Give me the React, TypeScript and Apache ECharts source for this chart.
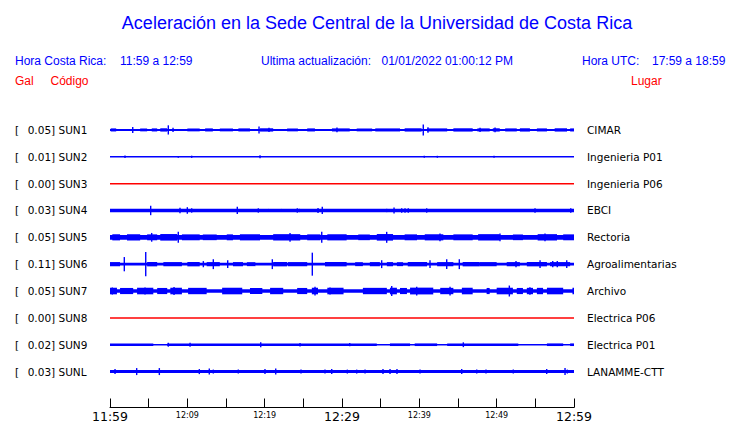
import React, { useEffect, useRef } from 'react';
import * as echarts from 'echarts';

// ---------------- data ----------------
const stations = ['SUN1', 'SUN2', 'SUN3', 'SUN4', 'SUN5', 'SUN6', 'SUN7', 'SUN8', 'SUN9', 'SUNL'];
const places = ['CIMAR', 'Ingenieria P01', 'Ingenieria P06', 'EBCI', 'Rectoria', 'Agroalimentarias', 'Archivo', 'Electrica P06', 'Electrica P01', 'LANAMME-CTT'];
const peakGal = [0.05, 0.01, 0.0, 0.03, 0.05, 0.11, 0.05, 0.0, 0.02, 0.03];
const tickLabels = ['11:59', '12:09', '12:19', '12:29', '12:39', '12:49', '12:59'];
// background noise half-amplitude (gal)
const noiseGal = [0.009, 0.0055, 0, 0.016, 0.021, 0.012, 0.016, 0, 0.006, 0.014];

// bursts: [startMin, endMin, halfAmpGal]   (minutes after 11:59)
const burstsSUN1 = [[0.1, 0.8, 0.014], [3.9, 4.8, 0.013], [5.4, 6.1, 0.014], [6.5, 7.4, 0.015], [10.0, 11.6, 0.013], [12.3, 13.3, 0.014], [14.2, 15.9, 0.013], [16.6, 18.1, 0.014], [19.4, 21.1, 0.015], [22.9, 24.3, 0.013], [25.5, 26.5, 0.014], [28.7, 31.0, 0.014], [31.9, 33.9, 0.013], [34.3, 37.5, 0.014], [38.1, 40.3, 0.015], [41.0, 43.6, 0.014], [44.4, 46.9, 0.015], [47.5, 49.1, 0.014], [49.5, 50.4, 0.015], [51.1, 52.6, 0.014], [53.0, 54.3, 0.015], [55.2, 56.5, 0.014], [57.5, 59.1, 0.015], [59.5, 60, 0.014]];
const burstsSUN2: number[][] = [];
const burstsSUN3: number[][] = [];
const burstsSUN4: number[][] = [];
const burstsSUN5 = [[0.3, 1.3, 0.028], [2.2, 3.9, 0.029], [4.8, 6.1, 0.027], [6.5, 8.7, 0.03], [9.3, 11.6, 0.027], [12.0, 13.8, 0.026], [15.1, 15.9, 0.027], [16.8, 19.4, 0.028], [21.1, 24.6, 0.029], [25.5, 27.2, 0.027], [28.1, 30.6, 0.028], [32.1, 33.6, 0.026], [34.5, 36.6, 0.03], [38.1, 39.7, 0.027], [40.7, 43.1, 0.028], [44.4, 46.9, 0.027], [47.6, 50.4, 0.029], [52.1, 53.4, 0.026], [55.3, 57.8, 0.029], [58.6, 60, 0.027]];
const burstsSUN6 = [[0, 1.3, 0.019], [4.8, 6.1, 0.02], [6.9, 9.3, 0.019], [10.0, 11.6, 0.02], [12.5, 14.2, 0.019], [15.9, 17.2, 0.019], [17.7, 18.8, 0.018], [21.1, 22.9, 0.02], [23.0, 25.5, 0.019], [27.8, 30.6, 0.02], [31.7, 32.7, 0.018], [33.6, 34.9, 0.019], [35.8, 36.6, 0.019], [37.1, 37.9, 0.018], [38.5, 41.0, 0.02], [42.3, 44.4, 0.019], [45.6, 47.8, 0.02], [47.8, 50.0, 0.019], [51.3, 53.0, 0.019], [53.9, 56.5, 0.02], [56.9, 59.5, 0.019]];
const burstsSUN7 = [[0, 0.9, 0.03], [1.3, 3.0, 0.028], [3.5, 5.6, 0.03], [6.1, 7.4, 0.028], [7.8, 9.3, 0.03], [10.1, 12.5, 0.029], [14.5, 17.1, 0.03], [18.1, 19.7, 0.028], [20.7, 22.4, 0.029], [24.2, 25.5, 0.028], [26.1, 26.9, 0.03], [28.1, 30.2, 0.03], [32.7, 35.8, 0.029], [36.2, 37.1, 0.03], [37.5, 38.4, 0.028], [38.8, 41.8, 0.031], [42.7, 44.4, 0.029], [45.5, 46.9, 0.03], [48.7, 49.1, 0.028], [50.0, 52.1, 0.03], [52.6, 53.4, 0.028], [53.9, 54.7, 0.029], [55.2, 56.0, 0.029], [56.5, 58.6, 0.03], [59.8, 60, 0.03]];
const burstsSUN8: number[][] = [];
const burstsSUN9 = [[0, 5.6, 0.012], [7.4, 34.5, 0.012], [36.2, 38.8, 0.012], [39.4, 42.3, 0.012], [43.6, 52.8, 0.012], [56.5, 58.6, 0.012], [59.5, 60, 0.012]];
const burstsSUNL: number[][] = [];

// spikes: [minute, halfAmpGal]
const spikesSUN1 = [[2.94, 0.027], [7.54, 0.042], [8.15, 0.02], [19.27, 0.032], [20.56, 0.02], [29.35, 0.022], [40.51, 0.05], [41.12, 0.025], [47.85, 0.02], [49.79, 0.022]];
const spikesSUN2 = [[1.94, 0.012], [8.83, 0.008], [10.56, 0.01], [19.4, 0.013], [40.64, 0.01], [42.33, 0.009], [49.66, 0.009]];
const spikesSUN3: number[][] = [];
const spikesSUN4 = [[5.26, 0.043], [9.05, 0.025], [10.0, 0.03], [10.56, 0.02], [14.0, 0.014], [16.46, 0.033], [19.18, 0.02], [20.47, 0.014], [22.2, 0.014], [24.22, 0.02], [24.48, 0.015], [26.9, 0.022], [27.45, 0.033], [35.78, 0.015], [36.73, 0.028], [37.72, 0.02], [38.15, 0.02], [38.57, 0.02], [40.95, 0.02], [42.67, 0.014], [46.33, 0.014], [54.96, 0.02], [59.58, 0.02]];
const spikesSUN5 = [[5.39, 0.04], [8.83, 0.05], [23.28, 0.04], [27.38, 0.05], [35.78, 0.05], [42.67, 0.035], [50.43, 0.035], [56.25, 0.035]];
const spikesSUN6 = [[1.85, 0.065], [4.62, 0.11], [12.07, 0.028], [13.36, 0.045], [15.22, 0.036], [20.99, 0.045], [26.16, 0.105], [35.13, 0.036], [41.38, 0.036], [43.54, 0.045], [45.17, 0.045], [52.5, 0.028], [55.61, 0.036], [57.25, 0.028], [57.84, 0.028], [59.06, 0.036]];
const spikesSUN7 = [[0.3, 0.032], [4.53, 0.032], [8.28, 0.036], [26.51, 0.04], [28.45, 0.032], [36.43, 0.045], [39.66, 0.04], [43.97, 0.04], [51.64, 0.05], [54.3, 0.035]];
const spikesSUN8: number[][] = [];
const spikesSUN9 = [[7.54, 0.018], [10.35, 0.018], [19.49, 0.022], [24.57, 0.016], [31.0, 0.015], [45.69, 0.022]];
const spikesSUNL = [[0.65, 0.023], [3.45, 0.032], [6.38, 0.032], [11.55, 0.023], [12.84, 0.027], [13.36, 0.018], [16.59, 0.018], [20.04, 0.023], [21.43, 0.027], [24.7, 0.018], [27.8, 0.018], [28.67, 0.023], [30.69, 0.018], [31.9, 0.018], [32.98, 0.018], [35.3, 0.023], [36.21, 0.023], [37.11, 0.023], [40.09, 0.018], [45.48, 0.023], [47.42, 0.018], [48.62, 0.018], [52.15, 0.018], [56.47, 0.023], [58.84, 0.032], [59.14, 0.018]];

const bursts = [burstsSUN1, burstsSUN2, burstsSUN3, burstsSUN4, burstsSUN5, burstsSUN6, burstsSUN7, burstsSUN8, burstsSUN9, burstsSUNL];
const spikes = [spikesSUN1, spikesSUN2, spikesSUN3, spikesSUN4, spikesSUN5, spikesSUN6, spikesSUN7, spikesSUN8, spikesSUN9, spikesSUNL];

// ---------------- layout constants ----------------
const ROW_GAL = 0.245; // vertical spacing between traces, in gal
const MIN_W = 1.4;
const MIN_H = 1.5;
const BLUE = '#0000ff';
const RED = '#ff0000';
const HEAD_FONT = '"Liberation Sans", Arial, Helvetica, sans-serif';
const LABEL_FONT = '"DejaVu Sans", sans-serif';

function buildOption() {
  const series = stations.map((s, i) => {
    const color = peakGal[i] > 0 ? BLUE : RED;
    const data: number[][] = [[0, 60, i, noiseGal[i]]];
    bursts[i].forEach((b) => data.push([b[0], b[1], i, b[2]]));
    spikes[i].forEach((p) => data.push([p[0], p[0], i, p[1]]));
    return {
      type: 'custom',
      name: s,
      coordinateSystem: 'cartesian2d',
      xAxisIndex: 0,
      yAxisIndex: 0,
      silent: true,
      clip: false,
      encode: { x: [0, 1], y: 3 },
      data,
      renderItem: (params: any, api: any) => {
        const t0 = api.value(0);
        const t1 = api.value(1);
        const row = api.value(2);
        const a = api.value(3);
        const c = -row * ROW_GAL;
        const p0 = api.coord([t0, c + a]);
        const p1 = api.coord([t1, c - a]);
        let x = p0[0];
        let w = p1[0] - p0[0];
        if (w < MIN_W) {
          x = (p0[0] + p1[0]) / 2 - MIN_W / 2;
          w = MIN_W;
        }
        let y = p0[1];
        let h = p1[1] - p0[1];
        if (h < MIN_H) {
          y = (p0[1] + p1[1]) / 2 - MIN_H / 2;
          h = MIN_H;
        }
        return { type: 'rect', shape: { x, y, width: w, height: h }, style: { fill: color } };
      },
    };
  });

  const headText = (text: string, x: number, y: number, color: string, size = 12, align = 'left') => ({
    type: 'text',
    x,
    y,
    style: { text, fill: color, font: `${size}px ${HEAD_FONT}`, textAlign: align, textVerticalAlign: 'middle' },
  });

  return {
    animation: false,
    backgroundColor: '#ffffff',
    grid: { left: 110, right: 166, top: 116.5, bottom: 36.5, containLabel: false },
    xAxis: {
      type: 'value',
      min: 0,
      max: 60,
      interval: 5,
      position: 'bottom',
      offset: 22.5,
      splitLine: { show: false },
      axisLine: { onZero: false, lineStyle: { color: '#000', width: 1 } },
      axisTick: { inside: true, length: 9, lineStyle: { color: '#000', width: 1 } },
      axisLabel: {
        margin: 2,
        color: '#000',
        showMinLabel: true,
        showMaxLabel: true,
        formatter: (v: number) => {
          const k = v / 10;
          if (!Number.isInteger(k)) return '';
          return k % 3 === 0 ? `{big|${tickLabels[k]}}` : `{small|${tickLabels[k]}}`;
        },
        rich: {
          big: { fontSize: 12.5, fontFamily: LABEL_FONT, color: '#000', lineHeight: 14 },
          small: { fontSize: 8, fontFamily: LABEL_FONT, color: '#000', lineHeight: 12 },
        },
      },
    },
    yAxis: [
      { type: 'value', show: false, min: -9.5 * ROW_GAL, max: 0.5 * ROW_GAL },
      {
        type: 'category',
        position: 'left',
        inverse: true,
        data: stations,
        boundaryGap: true,
        axisLine: { show: false },
        axisTick: { show: false },
        splitLine: { show: false },
        axisLabel: {
          interval: 0,
          align: 'left',
          margin: 95,
          color: '#000',
          fontFamily: LABEL_FONT,
          fontSize: 10.5,
          formatter: (value: string, idx: number) => `{b|[}{v|${peakGal[idx].toFixed(2)}] ${value}}`,
          rich: {
            b: { width: 12.7, fontFamily: LABEL_FONT, fontSize: 10.5, color: '#000' },
            v: { fontFamily: LABEL_FONT, fontSize: 10.5, color: '#000' },
          },
        },
      },
      {
        type: 'category',
        position: 'right',
        inverse: true,
        data: places,
        boundaryGap: true,
        axisLine: { show: false },
        axisTick: { show: false },
        splitLine: { show: false },
        axisLabel: {
          interval: 0,
          align: 'left',
          margin: 13,
          color: '#000',
          fontFamily: LABEL_FONT,
          fontSize: 10.5,
        },
      },
    ],
    graphic: [
      headText('Aceleración en la Sede Central de la Universidad de Costa Rica', 377, 23, BLUE, 18, 'center'),
      headText('Hora Costa Rica:', 15, 61, BLUE),
      headText('11:59 a 12:59', 120, 61, BLUE),
      headText('Ultima actualización:', 261, 61, BLUE),
      headText('01/01/2022 01:00:12 PM', 381.5, 61, BLUE),
      headText('Hora UTC:', 582, 61, BLUE),
      headText('17:59 a 18:59', 652, 61, BLUE),
      headText('Gal', 15, 81, RED),
      headText('Código', 50.5, 81, RED),
      headText('Lugar', 631, 81, RED),
    ],
    series,
  };
}

export default function App() {
  const ref = useRef<HTMLDivElement>(null);
  useEffect(() => {
    if (!ref.current) return;
    const chart = echarts.init(ref.current, undefined, { renderer: 'svg' });
    chart.setOption(buildOption() as any);
    return () => chart.dispose();
  }, []);
  return (
    <div
      ref={ref}
      style={{ position: 'fixed', left: 0, top: 0, width: 740, height: 423, background: '#ffffff' }}
    />
  );
}
